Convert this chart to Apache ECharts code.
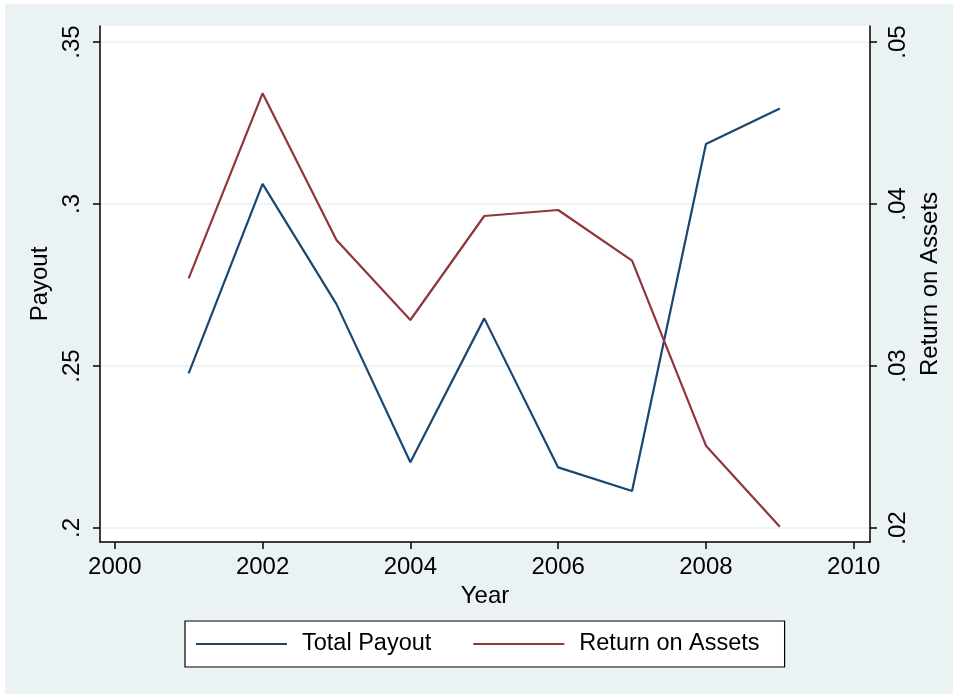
<!DOCTYPE html>
<html>
<head>
<meta charset="utf-8">
<style>
  html, body { margin: 0; padding: 0; background: #eaf2f3; overflow: hidden; }
  #chart { width: 953px; height: 694px; }
</style>
<script src="https://cdn.jsdelivr.net/npm/echarts@6/dist/echarts.min.js"></script>
</head>
<body>
<div id="chart"></div>
<script>
// Yearly averages, 2001–2009
const years = [2001, 2002, 2003, 2004, 2005, 2006, 2007, 2008, 2009];
const totalPayout = [0.2477, 0.3062, 0.2691, 0.2203, 0.2647, 0.2187, 0.2114, 0.3185, 0.3295];
const returnOnAssets = [0.03541, 0.04683, 0.03778, 0.03284, 0.03926, 0.03963, 0.0365, 0.02508, 0.02008];

// Tick positions and labels
const yearTicks = [2000, 2002, 2004, 2006, 2008, 2010];
const payoutTicks = [0.2, 0.25, 0.3, 0.35];
const payoutTickLabels = ['.2', '.25', '.3', '.35'];
const roaTicks = [0.02, 0.03, 0.04, 0.05];
const roaTickLabels = ['.02', '.03', '.04', '.05'];

const FONT = '"Liberation Sans", Arial, Helvetica, sans-serif';
const FONT_SIZE = 24;
const INK = '#000000';
const BLUE = '#1a476f';
const RED = '#90353b';
const GRID = '#eaf2f3';

function labelFor(ticks, labels) {
  return function (v) {
    for (let i = 0; i < ticks.length; i++) {
      if (Math.abs(ticks[i] - v) < 1e-9) return labels[i];
    }
    return '';
  };
}

const axisCommon = {
  axisLine: { show: true, onZero: false, lineStyle: { color: INK, width: 1.5 } },
  axisTick: { show: true, inside: false, length: 7, lineStyle: { color: INK, width: 1.5 } },
  nameTextStyle: { color: INK, fontFamily: FONT, fontSize: FONT_SIZE }
};

const chart = echarts.init(document.getElementById('chart'), null, { renderer: 'canvas' });

chart.setOption({
  backgroundColor: '#eaf2f3',
  animation: false,
  textStyle: { fontFamily: FONT },
  graphic: [
    { type: 'rect', left: 0, top: 0, shape: { width: 953, height: 4 }, style: { fill: '#ffffff' }, silent: true },
    { type: 'rect', left: 0, top: 0, shape: { width: 5, height: 694 }, style: { fill: '#ffffff' }, silent: true }
  ],
  grid: {
    left: 100, right: 83, top: 26, bottom: 152,
    show: true, backgroundColor: '#ffffff', borderWidth: 0
  },
  legend: {
    left: 185, top: 621,
    orient: 'horizontal',
    backgroundColor: '#ffffff',
    borderColor: INK, borderWidth: 1.2, borderRadius: 0,
    padding: [11, 25, 11, 11],
    itemGap: 42,
    itemWidth: 91, itemHeight: 2,
    icon: 'rect',
    textStyle: { color: INK, fontFamily: FONT, fontSize: 23.5, padding: [0, 0, 0, 10] },
    data: ['Total Payout', 'Return on Assets']
  },
  xAxis: Object.assign({}, axisCommon, {
    type: 'value',
    min: 1999.8, max: 2010.22,
    name: 'Year', nameLocation: 'middle', nameGap: 41,
    axisTick: Object.assign({}, axisCommon.axisTick, { customValues: yearTicks }),
    axisLabel: { customValues: yearTicks, color: INK, fontFamily: FONT, fontSize: FONT_SIZE, margin: 13, formatter: v => String(v) },
    splitLine: { show: false }
  }),
  yAxis: [
    Object.assign({}, axisCommon, {
      type: 'value', position: 'left',
      min: 0.19568, max: 0.35494,
      name: 'Payout', nameLocation: 'middle', nameGap: 40, nameRotate: 90,
      axisTick: Object.assign({}, axisCommon.axisTick, { customValues: payoutTicks }),
      axisLabel: { customValues: payoutTicks, rotate: 90, color: INK, fontFamily: FONT, fontSize: FONT_SIZE, margin: 16,
                   formatter: labelFor(payoutTicks, payoutTickLabels) },
      splitLine: { show: true, lineStyle: { color: GRID, width: 1.5 } }
    }),
    Object.assign({}, axisCommon, {
      type: 'value', position: 'right',
      min: 0.019136, max: 0.050988,
      name: 'Return on Assets', nameLocation: 'middle', nameGap: 36, nameRotate: 90,
      axisTick: Object.assign({}, axisCommon.axisTick, { customValues: roaTicks }),
      axisLabel: { customValues: roaTicks, rotate: 90, color: INK, fontFamily: FONT, fontSize: FONT_SIZE, margin: 16,
                   formatter: labelFor(roaTicks, roaTickLabels) },
      splitLine: { show: false }
    })
  ],
  series: [
    {
      name: 'Total Payout', type: 'line', yAxisIndex: 0,
      data: years.map((y, i) => [y, totalPayout[i]]),
      showSymbol: false, symbol: 'none',
      lineStyle: { color: BLUE, width: 2.2 }, itemStyle: { color: BLUE }
    },
    {
      name: 'Return on Assets', type: 'line', yAxisIndex: 1,
      data: years.map((y, i) => [y, returnOnAssets[i]]),
      showSymbol: false, symbol: 'none',
      lineStyle: { color: RED, width: 2.2 }, itemStyle: { color: RED }
    }
  ]
});
</script>
</body>
</html>
